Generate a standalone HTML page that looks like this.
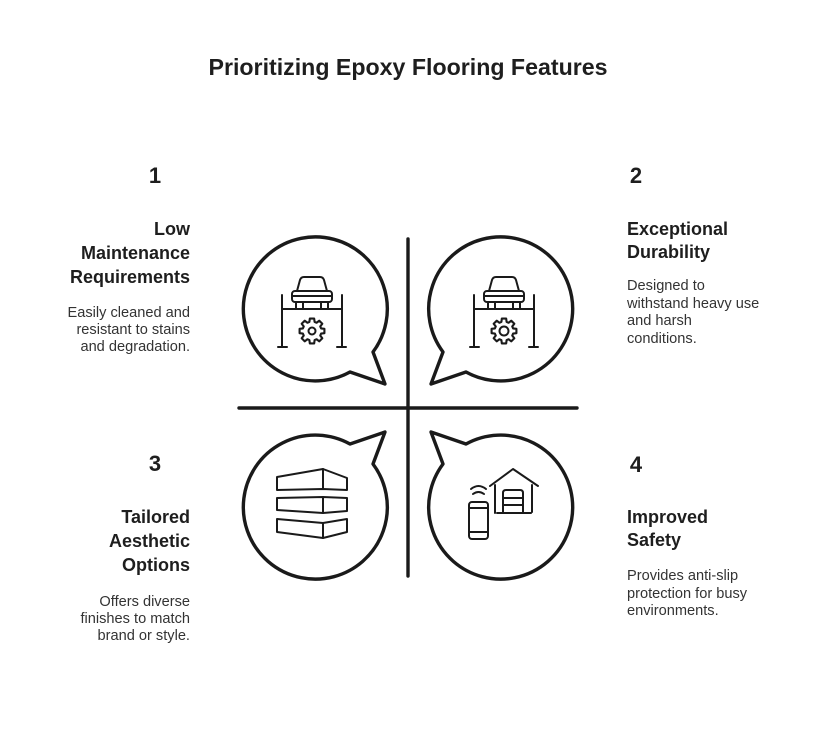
<!DOCTYPE html>
<html>
<head>
<meta charset="utf-8">
<style>
  html,body{margin:0;padding:0;background:#fff;}
  svg{display:block;}
  .t{font-family:"Liberation Sans",Arial,sans-serif;}
  .h{font-weight:bold;font-size:18px;fill:#1e1e1e;}
  .n{font-weight:bold;font-size:22px;fill:#1e1e1e;}
  .d{font-size:14.6px;fill:#333;}
  .e{text-anchor:end;}
  .ln{stroke:#1a1a1a;stroke-width:3.4;fill:none;stroke-linecap:round;stroke-linejoin:round;}
  .ic{stroke:#1a1a1a;stroke-width:2;fill:none;stroke-linecap:round;stroke-linejoin:round;}
</style>
</head>
<body>
<svg width="816" height="756" viewBox="0 0 816 756" xmlns="http://www.w3.org/2000/svg">
  <defs>
    <polygon id="gear" points="8.65,-2.48 11.82,-2.08 11.82,2.08 8.65,2.48 7.87,4.36 9.83,6.88 6.88,9.83 4.36,7.87 2.48,8.65 2.08,11.82 -2.08,11.82 -2.48,8.65 -4.36,7.87 -6.88,9.83 -9.83,6.88 -7.87,4.36 -8.65,2.48 -11.82,2.08 -11.82,-2.08 -8.65,-2.48 -7.87,-4.36 -9.83,-6.88 -6.88,-9.83 -4.36,-7.87 -2.48,-8.65 -2.08,-11.82 2.08,-11.82 2.48,-8.65 4.36,-7.87 6.88,-9.83 9.83,-6.88 7.87,-4.36"/>
    <g id="lift">
      <line x1="-30" y1="-17" x2="-30" y2="35"/>
      <line x1="30" y1="-17" x2="30" y2="35"/>
      <line x1="-34" y1="35" x2="-25" y2="35"/>
      <line x1="25" y1="35" x2="34" y2="35"/>
      <line x1="-30" y1="-3" x2="30" y2="-3"/>
      <path d="M-15,-21 L-12,-32 Q-11,-35 -8,-35 L8,-35 Q11,-35 12,-32 L15,-21"/>
      <rect x="-20" y="-21" width="40" height="11" rx="3"/>
      <line x1="-20" y1="-16" x2="20" y2="-16"/>
      <rect x="-16" y="-10" width="7" height="7"/>
      <rect x="9" y="-10" width="7" height="7"/>
    </g>
  </defs>

  <text class="t" x="408" y="75" text-anchor="middle" font-weight="bold" font-size="23" fill="#1e1e1e" textLength="399" lengthAdjust="spacingAndGlyphs">Prioritizing Epoxy Flooring Features</text>

  <line class="ln" x1="408" y1="239" x2="408" y2="576"/>
  <line class="ln" x1="239" y1="408" x2="577" y2="408"/>

  <path class="ln" d="M373,352 A72,72 0 1 0 350,372 L385,384 Z"/>
  <path class="ln" d="M443,352 A72,72 0 1 1 466,372 L431,384 Z"/>
  <path class="ln" d="M373,464 A72,72 0 1 1 350,444 L385,432 Z"/>
  <path class="ln" d="M443,464 A72,72 0 1 0 466,444 L431,432 Z"/>

  <g class="ic" transform="translate(312,312)">
    <use href="#lift"/>
    <use href="#gear" transform="translate(0,19) scale(1.05)"/>
    <circle cx="0" cy="19" r="3.5"/>
  </g>
  <g class="ic" transform="translate(504,312)">
    <use href="#lift"/>
    <use href="#gear" transform="translate(0,19) scale(1.05)"/>
    <circle cx="0" cy="19" r="4.5"/>
  </g>

  <g class="ic">
    <path d="M277,477 L323,469 L347,478 L347,490 L323,489 L277,490 Z"/>
    <line x1="323" y1="469" x2="323" y2="489"/>
    <path d="M277,498 L323,497 L347,498 L347,511 L323,513 L277,510 Z"/>
    <line x1="323" y1="497" x2="323" y2="513"/>
    <path d="M277,519 L323,523 L347,519 L347,532 L323,538 L277,532 Z"/>
    <line x1="323" y1="523" x2="323" y2="538"/>
  </g>

  <g class="ic">
    <rect x="469" y="502" width="19" height="37" rx="3"/>
    <line x1="469" y1="508" x2="488" y2="508"/>
    <line x1="469" y1="532" x2="488" y2="532"/>
    <path d="M473,494 Q478.5,490 484,494"/>
    <path d="M471,489 Q478.5,483 486,489"/>
    <path d="M490,486 L513,469 L538,486"/>
    <line x1="495" y1="485" x2="495" y2="513"/>
    <line x1="532" y1="485" x2="532" y2="512"/>
    <line x1="497" y1="513" x2="531" y2="513"/>
    <path d="M503,513 L503,493 Q503,490 506,490 L520,490 Q523,490 523,493 L523,513"/>
    <line x1="503" y1="498" x2="523" y2="498"/>
    <line x1="503" y1="505" x2="523" y2="505"/>
  </g>

  <!-- Text 1 -->
  <text class="t n" x="155" y="183" text-anchor="middle">1</text>
  <text class="t h e" x="190" y="235">Low</text>
  <text class="t h e" x="190" y="259">Maintenance</text>
  <text class="t h e" x="190" y="283">Requirements</text>
  <text class="t d e" x="190" y="317">Easily cleaned and</text>
  <text class="t d e" x="190" y="334">resistant to stains</text>
  <text class="t d e" x="190" y="351">and degradation.</text>

  <!-- Text 2 -->
  <text class="t n" x="636" y="183" text-anchor="middle">2</text>
  <text class="t h" x="627" y="235">Exceptional</text>
  <text class="t h" x="627" y="258">Durability</text>
  <text class="t d" x="627" y="290">Designed to</text>
  <text class="t d" x="627" y="308">withstand heavy use</text>
  <text class="t d" x="627" y="325">and harsh</text>
  <text class="t d" x="627" y="343">conditions.</text>

  <!-- Text 3 -->
  <text class="t n" x="155" y="471" text-anchor="middle">3</text>
  <text class="t h e" x="190" y="523">Tailored</text>
  <text class="t h e" x="190" y="547">Aesthetic</text>
  <text class="t h e" x="190" y="571">Options</text>
  <text class="t d e" x="190" y="606">Offers diverse</text>
  <text class="t d e" x="190" y="623">finishes to match</text>
  <text class="t d e" x="190" y="640">brand or style.</text>

  <!-- Text 4 -->
  <text class="t n" x="636" y="472" text-anchor="middle">4</text>
  <text class="t h" x="627" y="523">Improved</text>
  <text class="t h" x="627" y="546">Safety</text>
  <text class="t d" x="627" y="580">Provides anti-slip</text>
  <text class="t d" x="627" y="598">protection for busy</text>
  <text class="t d" x="627" y="615">environments.</text>
</svg>
</body>
</html>
